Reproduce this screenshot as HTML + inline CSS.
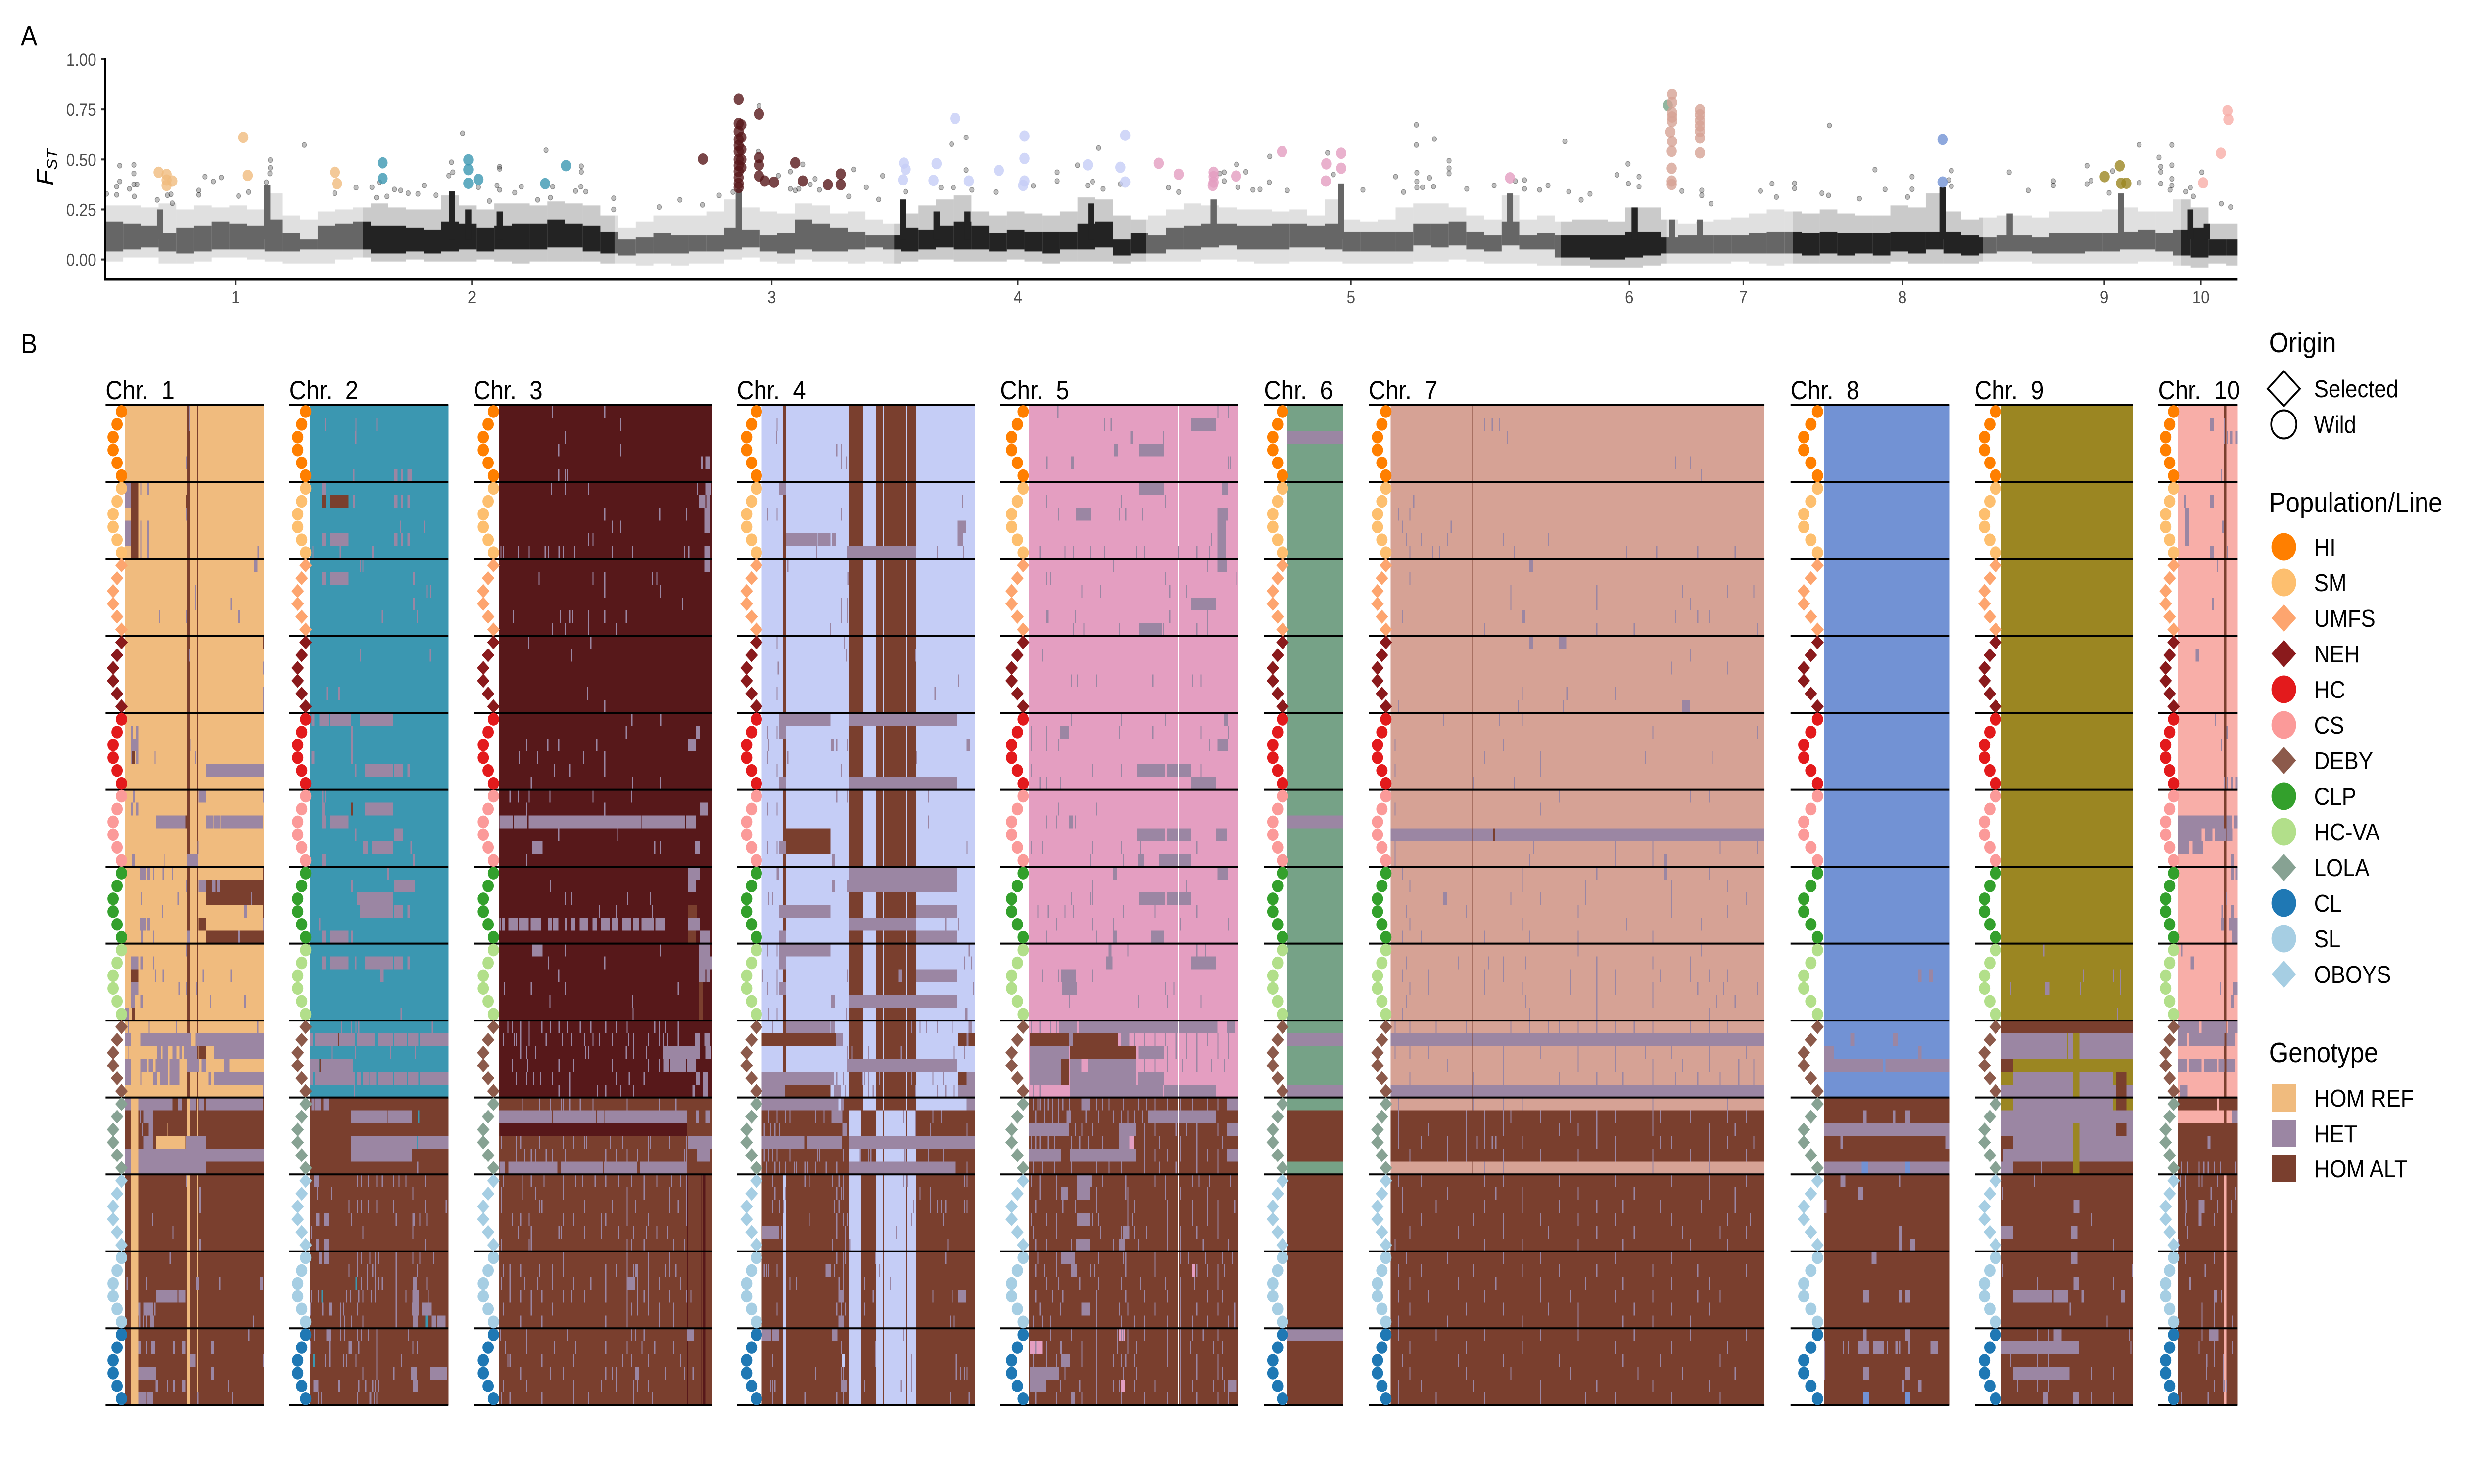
<!DOCTYPE html>
<html lang="en">
<head>
<meta charset="utf-8">
<title>FST Manhattan plot and genotype heatmaps by chromosome</title>
<style>
html,body{margin:0;padding:0;background:#fff;width:100%;height:100%;overflow:hidden;}
svg{display:block;width:100vw;height:100vh;font-family:"Liberation Sans",sans-serif;}
.pre{white-space:pre;}
</style>
</head>
<body>
<svg id="figure" xmlns="http://www.w3.org/2000/svg" viewBox="0 0 5600 3000" preserveAspectRatio="none">
<rect x="0" y="0" width="5600" height="3000" fill="#fff"/>
<text x="47" y="91" font-size="56">A</text>
<text x="47" y="714" font-size="56">B</text>
<g id="manhattan"></g>
<text transform="translate(120,375) rotate(-90)" font-style="italic" font-size="52">F<tspan dy="9" font-size="33">ST</tspan></text>
<g id="heatmaps"></g>

<g>
<g>
<text x="5136" y="712" font-size="57">Origin</text>
<polygon points="5133,786 5169.5,750 5206,786 5169.5,821" fill="none" stroke="#000" stroke-width="4"/>
<text x="5238" y="803" font-size="49">Selected</text>
<circle cx="5169.5" cy="858" r="28.5" fill="none" stroke="#000" stroke-width="4"/>
<text x="5238" y="875" font-size="49">Wild</text>
</g>
<g>
<text x="5136" y="1035" font-size="57">Population/Line</text>
<circle cx="5169.5" cy="1105.5" r="28" fill="#ff7f00"/>
<text x="5238" y="1123" font-size="49">HI</text>
<circle cx="5169.5" cy="1177.5" r="28" fill="#fdbf6f"/>
<text x="5238" y="1195" font-size="49">SM</text>
<polygon points="5141.5,1249.5 5169.5,1221.5 5197.5,1249.5 5169.5,1277.5" fill="#fda56f"/>
<text x="5238" y="1267" font-size="49">UMFS</text>
<polygon points="5141.5,1321.5 5169.5,1293.5 5197.5,1321.5 5169.5,1349.5" fill="#8a1a1c"/>
<text x="5238" y="1339" font-size="49">NEH</text>
<circle cx="5169.5" cy="1393.5" r="28" fill="#e31a1c"/>
<text x="5238" y="1411" font-size="49">HC</text>
<circle cx="5169.5" cy="1465.5" r="28" fill="#fb9a99"/>
<text x="5238" y="1483" font-size="49">CS</text>
<polygon points="5141.5,1537.5 5169.5,1509.5 5197.5,1537.5 5169.5,1565.5" fill="#8c5a4b"/>
<text x="5238" y="1555" font-size="49">DEBY</text>
<circle cx="5169.5" cy="1609.5" r="28" fill="#33a02c"/>
<text x="5238" y="1627" font-size="49">CLP</text>
<circle cx="5169.5" cy="1681.5" r="28" fill="#b2df8a"/>
<text x="5238" y="1699" font-size="49">HC-VA</text>
<polygon points="5141.5,1753.5 5169.5,1725.5 5197.5,1753.5 5169.5,1781.5" fill="#87a293"/>
<text x="5238" y="1771" font-size="49">LOLA</text>
<circle cx="5169.5" cy="1825.5" r="28" fill="#1f78b4"/>
<text x="5238" y="1843" font-size="49">CL</text>
<circle cx="5169.5" cy="1897.5" r="28" fill="#a6cee3"/>
<text x="5238" y="1915" font-size="49">SL</text>
<polygon points="5141.5,1969.5 5169.5,1941.5 5197.5,1969.5 5169.5,1997.5" fill="#a6cee3"/>
<text x="5238" y="1987" font-size="49">OBOYS</text>
</g>
<g>
<text x="5136" y="2147" font-size="57">Genotype</text>
<rect x="5143" y="2192" width="54" height="55" fill="#f0bb7e"/>
<text x="5238" y="2237" font-size="49">HOM REF</text>
<rect x="5143" y="2264" width="54" height="55" fill="#9b86a3"/>
<text x="5238" y="2309" font-size="49">HET</text>
<rect x="5143" y="2335" width="54" height="55" fill="#7a3f2e"/>
<text x="5238" y="2380" font-size="49">HOM ALT</text>
</g>
</g>
</svg>

<script>
/* ===== Panel A data: genome position in window units, value = FST ===== */
const yTickValues = [0, 0.25, 0.5, 0.75, 1];
const yTickLabels = ["0.00", "0.25", "0.50", "0.75", "1.00"];
const xTickLabels = ["1", "2", "3", "4", "5", "6", "7", "8", "9", "10"];
const xTickPositions = [29.4, 82.9, 150.8, 206.5, 281.9, 344.9, 370.7, 406.7, 452.4, 474.3];
const chromosomeEnds = [58.2, 115.2, 178.5, 235.5, 329.4, 353.4, 381.9, 424.9, 469.7, 482.6];

/* dense SNP cloud summarised per window (4 units wide) */
const coreTop = [.19,.18,.17,.13,.16,.17,.19,.18,.17,.2,.13,.1,.17,.18,.19,
 .17,.17,.16,.15,.19,.18,.16,.17,.18,.18,.2,.18,.17,.14,
 .1,.11,.13,.12,.12,.12,.16,.15,.12,.13,.2,.18,.16,.14,.12,.12,
 .16,.15,.17,.19,.17,.13,.15,.14,.14,.14,.18,.19,.1,.13,
 .12,.16,.17,.18,.18,.17,.17,.18,.18,.17,.18,.14,.14,.14,.14,.18,.18,.19,.14,.12,.19,.12,.13,
 .12,.12,.12,.12,.14,.14,.11,
 .12,.12,.12,.12,.13,.14,
 .14,.13,.14,.13,.13,.13,.14,.14,.14,.14,.12,
 .11,.12,.12,.11,.13,.13,.13,.13,.14,.15,.13,
 .15,.16,.1,.1];
const coreBottom = [.04,.05,.06,.04,.03,.04,.05,.05,.05,.04,.04,.05,.05,.05,.05,
 .03,.03,.04,.03,.04,.05,.04,.05,.05,.05,.06,.06,.04,.03,
 .02,.03,.03,.03,.04,.04,.05,.06,.04,.03,.05,.04,.04,.05,.06,.05,
 .04,.05,.06,.05,.05,.04,.05,.04,.03,.05,.05,.06,.02,.03,
 .03,.05,.05,.06,.07,.05,.05,.05,.06,.06,.05,.04,.04,.04,.04,.07,.06,.07,.05,.04,.07,.05,.05,
 .01,.01,0,0,.01,.02,.03,
 .03,.03,.03,.03,.03,.03,
 .03,.02,.03,.02,.03,.02,.04,.03,.05,.03,.02,
 .03,.04,.04,.03,.03,.03,.04,.04,.05,.05,.04,
 .02,.01,.02,.02];
const haloTop = [.27,.27,.26,.28,.25,.27,.26,.27,.25,.33,.22,.2,.24,.25,.26,
 .28,.26,.25,.25,.32,.27,.25,.28,.28,.27,.29,.28,.27,.22,
 .16,.19,.22,.22,.22,.24,.3,.26,.24,.23,.28,.27,.23,.24,.2,.18,
 .23,.27,.3,.32,.24,.22,.24,.23,.22,.24,.31,.3,.22,.2,
 .22,.25,.28,.27,.26,.25,.25,.24,.25,.22,.3,.2,.19,.2,.26,.28,.28,.26,.22,.2,.32,.2,.22,
 .19,.2,.2,.19,.26,.26,.2,
 .18,.19,.2,.21,.23,.25,
 .24,.23,.25,.23,.22,.22,.27,.26,.33,.24,.2,
 .21,.22,.22,.21,.24,.24,.24,.25,.26,.24,.24,
 .3,.26,.18,.18];
const haloBottom = [-.01,.01,.01,-.02,-.02,-.01,.01,.01,0,-.01,-.02,-.02,-.02,0,.01,
 -.01,-.01,0,-.01,-.01,-.01,0,-.01,-.02,-.01,-.01,-.01,-.01,-.02,
 -.02,-.03,-.02,-.03,-.02,-.02,0,.01,-.01,-.02,0,-.01,-.01,-.02,-.01,-.02,
 -.01,0,0,-.01,-.01,-.01,0,-.01,-.02,-.01,-.01,-.01,-.02,-.01,
 -.01,-.01,-.01,0,0,-.01,-.02,-.02,-.01,-.01,-.01,-.02,-.02,-.02,-.02,-.01,-.01,0,-.01,-.02,-.02,-.02,-.03,
 -.03,-.03,-.04,-.04,-.04,-.03,-.02,
 -.02,-.02,-.02,-.01,-.02,-.03,
 -.02,-.02,-.02,-.02,-.02,-.02,-.01,-.02,-.02,-.02,-.02,
 -.01,-.01,-.01,-.02,-.02,-.02,-.02,-.02,-.02,-.01,-.01,
 -.03,-.04,-.02,-.03];

/* narrow FST peaks rising out of the cloud */
const peakPositions = [12.3,36.6,78.4,82.1,89.2,143.3,180.5,188.1,195.1,223.1,250.8,279.7,317.9,346.1,354.6,360.9,415.8,431,456.2,471.9,475.6];
const peakValues = [.25,.37,.34,.25,.24,.35,.3,.24,.24,.28,.3,.38,.33,.26,.2,.2,.36,.23,.33,.25,.18];

/* individually visible outlier SNPs */
const outlierPositions = [3.2,6.4,6.4,3.2,2.5,6.4,7.1,5.4,.2,2.5,6.5,11.7,14,14.8,15.1,22.5,24.4,26.2,21.1,21.1,32.4,30.1,37.3,37.3,37.2,36.4,45,51.9,56.7,60.3,62,65.4,66.8,68.5,70.7,72.1,74.8,61.3,63.7,78.3,78.6,77.7,80.8,84.4,89.2,89.2,88.6,89.2,94.1,99.7,101.2,107.7,107.7,107.6,106.4,108.7,115,115,97.8,100.7,92.6,86.9,130,125.3,135.1,138.9,142,147.9,147.7,155,152.3,155,156.1,157.8,160.6,159.5,156.9,161.6,169.3,172.2,175.9,168.2,175,181.1,191.5,194.8,194.8,189.1,191.9,196.1,201.5,210,215.4,215.4,220,224.8,222.3,223.4,225.8,229.7,240.6,242.9,252.2,253.2,253.2,256,258.1,256.3,263.5,263.4,259.7,261.3,267.5,276.6,277.9,292,284.6,293.8,296.7,296.7,300.8,296.8,296.8,296.8,299.7,300.6,298.1,304.1,304.1,304.1,308.1,314.3,321.2,321.2,319.1,326.5,324.6,330.3,331.2,336,342.1,344.6,344.7,334,347.1,347.1,356.8,361.3,361.3,363.4,377.2,382.3,382.3,374.6,378.2,390.2,388.5,390,400.5,402.8,397,408.9,408.9,407.9,417.8,417.2,417.8,430.9,435.2,440.9,440.9,448.5,449.4,448.5,454.3,460.3,460.3,453.5,467.7,464.8,465.2,465.2,467.7,467.7,467.7,465.2,467.3,474.5,471.9,472.6,470.8,478.9,481];
const outlierFst = [.469,.473,.43,.39,.364,.375,.375,.353,.328,.323,.315,.298,.321,.326,.281,.414,.39,.41,.345,.323,.337,.317,.497,.458,.43,.386,.572,.331,.359,.361,.386,.35,.345,.331,.328,.37,.321,.309,.315,.486,.436,.419,.631,.361,.464,.453,.37,.348,.364,.546,.364,.466,.438,.364,.342,.339,.306,.25,.298,.309,.334,.292,.298,.262,.273,.32,.337,.767,.539,.439,.419,.353,.345,.475,.403,.375,.353,.348,.45,.361,.418,.315,.3,.339,.576,.61,.447,.359,.359,.348,.337,.368,.436,.392,.471,.557,.37,.389,.353,.377,.359,.337,.43,.436,.392,.475,.438,.361,.515,.386,.348,.35,.345,.533,.425,.414,.348,.337,.673,.572,.602,.434,.39,.359,.408,.364,.361,.494,.456,.43,.353,.37,.397,.353,.392,.37,.348,.59,.339,.328,.423,.478,.379,.298,.414,.364,.342,.345,.32,.279,.379,.381,.355,.342,.312,.67,.331,.32,.449,.35,.304,.414,.351,.312,.444,.397,.366,.436,.345,.392,.37,.469,.394,.377,.442,.573,.383,.333,.572,.51,.464,.438,.471,.403,.37,.379,.348,.436,.359,.315,.339,.279,.262];

/* candidate SNPs coloured by chromosome */
const highlightPositions = [12,13.8,13.8,13.8,15.1,31.2,32.2,51.9,52.4,
 62.7,62.7,82.1,82.1,82.1,84.4,99.5,104.2,
 135.2,143.3,147.9,143.3,143.3,143.3,143.3,143.3,143.3,143.3,143.3,143.3,143.3,143.3,143.9,143.9,143.9,143.9,143.9,147.9,147.9,147.9,149.2,151.3,156.1,157.8,163.5,166.4,166.4,
 192.3,208,230.8,208,180.7,181.1,180.5,188.1,187.4,195.4,202.2,208,207.7,222.3,229.7,230.8,
 238.4,242.9,250.8,250.8,250.8,250.6,255.9,266.3,276.3,276.2,279.7,279.7,317.9,
 353.6,
 354.6,354.6,354.6,354.6,354.6,354.2,354.6,354.5,354.5,354.5,354.5,360.9,360.9,360.9,360.9,360.9,360.9,360.9,
 415.8,415.8,
 452.5,455.9,456.2,457.4,
 474.8,478.8,480.3,480.5];
const highlightFst = [.436,.425,.397,.37,.392,.61,.42,.436,.379,
 .483,.405,.498,.449,.381,.4,.379,.469,
 .502,.8,.727,.68,.64,.6,.57,.54,.5,.47,.44,.41,.38,.36,.673,.61,.55,.5,.46,.509,.472,.417,.392,.386,.483,.392,.374,.427,.374,
 .705,.617,.621,.505,.482,.451,.398,.479,.395,.392,.445,.392,.37,.473,.461,.387,
 .481,.426,.436,.414,.386,.37,.417,.539,.478,.392,.531,.456,.408,
 .77,
 .826,.784,.734,.712,.69,.638,.59,.541,.456,.392,.375,.748,.723,.695,.668,.64,.607,.533,
 .6,.387,
 .414,.468,.381,.381,
 .383,.531,.743,.7];
const highlightChromosome = [0,0,0,0,0,0,0,0,0,
 1,1,1,1,1,1,1,1,
 2,2,2,2,2,2,2,2,2,2,2,2,2,2,2,2,2,2,2,2,2,2,2,2,2,2,2,2,2,
 3,3,3,3,3,3,3,3,3,3,3,3,3,3,3,3,
 4,4,4,4,4,4,4,4,4,4,4,4,4,
 5,
 6,6,6,6,6,6,6,6,6,6,6,6,6,6,6,6,6,6,
 7,7,
 8,8,8,8,
 9,9,9,9];

/* ===== Panel B data ===== */
const chromosomeTitles = ["Chr.  1","Chr.  2","Chr.  3","Chr.  4","Chr.  5","Chr.  6","Chr.  7","Chr.  8","Chr.  9","Chr.  10"];
const populationOrder = ["hi","sm","umfs","neh","hc","cs","clp","hc-va","deby","lola","oboys","sl","cl"];
const populationSelected = [0,0,1,1,0,0,0,0,1,1,1,0,0];
const populationColors = ["#ff7f00","#fdbf6f","#fda56f","#8a1a1c","#e31a1c","#fb9a99","#33a02c","#b2df8a","#8c5a4b","#87a293","#a6cee3","#a6cee3","#1f78b4"];
const homRefColors = ["#f0bb7e","#3b97b1","#57181a","#c5cdf6","#e49ec1","#76a287","#d6a295","#7292d4","#9b8622","#f8aea8"];

/* each run: [firstRow, lastRow, startPercent, endPercent, genotype] ; 0 ref, 1 het, 2 alt, 3 no call */
const chr1Runs = [[0,53,44.5,46.5,2],[0,53,51.8,52.3,2],[54,77,0,100,2],[54,77,4,9.5,0],[54,77,44.5,47,0],[54,77,51.8,52.3,0],
[0,1,45.8,46.5,1],[4,4,43.5,44.5,1],[6,7,0,4,1],[6,11,4,9.5,2],[6,6,11,11.7,1],[6,6,15.9,17.3,1],[7,7,43.5,44.5,2],[8,8,43.5,44.5,1],[9,10,0,4,1],[9,11,11,11.7,1],[9,11,15.9,17.3,1],
[12,12,92.7,95.3,1],[14,15,50.4,51,1],[16,16,24.3,25.4,1],[16,16,43.5,44.5,1],[16,16,81.6,82.8,1],[18,18,99,100,2],[19,19,45.6,46.3,1],[20,20,99,100,1],[22,23,99,100,1],
[25,27,4,5.5,1],[25,27,7.5,9.5,1],[26,26,4,9.5,1],[27,27,4.7,7.3,2],[27,27,21.2,21.9,1],[26,26,46.5,47.3,1],[27,27,50.4,51,1],[28,28,58,100,1],
[30,30,5.7,7.3,1],[30,30,53,58,1],[30,30,99,100,1],[31,31,4,5.5,1],[31,31,7.5,9.5,1],[32,32,22.4,43.4,1],[32,32,43.4,45.6,2],[32,32,58,63,1],[32,32,63.5,68,1],[32,32,68.6,99,1],[34,34,52.2,53,1],[35,35,4.7,7.3,1],[35,35,28.3,28.8,1],[35,35,44.5,52.4,1],
[36,36,10.8,12.5,1],[36,36,13,15,1],[36,36,16,18,1],[36,36,20,21,1],[36,36,33.5,34.5,1],[36,36,99,100,2],[37,37,43.5,44.5,1],[37,37,53,58,1],[37,38,58,100,2],[37,37,62.5,65,1],[37,37,66,68,1],[38,38,11.5,12.2,1],[38,38,90.4,91.3,1],[39,39,85.4,88,1],[39,39,99,100,2],
[40,40,10.8,12.5,1],[40,40,13,15,1],[40,40,16,18,1],[40,40,53,58,2],[40,40,99,100,1],[41,41,58,100,2],[41,41,81.6,82.8,1],[41,41,44.5,47,1],[41,41,11.5,13,1],[41,41,20,21,1],
[42,42,43.5,44.5,1],[43,43,4,9.5,1],[43,43,11,13,1],[43,43,20,21,1],[44,44,4,9.5,2],[45,45,4,9.5,1],[45,45,38.3,39.5,1],[45,45,43.5,44.5,1],[45,45,51,52,1],[46,46,4,7.3,1],[46,46,11,13,1],[46,46,85.4,87,1],[47,47,0,2.7,1],[47,47,4.7,7.3,2],
[48,48,36.5,37.4,1],[48,48,95,96,1],[48,48,2,3,1],[49,49,0,4,1],[49,49,11,47.5,1],[49,49,50.7,100,1],
[50,50,2,2.5,1],[50,50,23,26,1],[50,50,27,31,1],[50,50,34,37,1],[50,50,39,41,1],[50,50,42.5,52,1],[50,50,53,58,2],[50,50,64,100,1],
[51,51,0,4,1],[51,51,11,16,1],[51,51,17,20,1],[51,51,22,31,1],[51,51,32,39,1],[51,51,44.5,53.5,1],[51,51,55,58,1],[51,51,71,75,1],
[52,52,0,4,1],[52,52,11,11.7,1],[52,52,20,23,1],[52,52,25,31,1],[52,52,32,39,1],[52,52,60,62,1],[52,52,64,100,1],[53,53,99,100,1],
[54,54,0,4,1],[54,54,9.5,34,1],[54,54,38,41,1],[54,54,47,51,1],[54,54,53,57,1],[54,54,58,99,1],
[55,55,13.5,20,1],[55,55,10.5,11.5,1],[56,56,12,13,1],[56,56,17,20,1],[56,56,30,30.5,0],[57,57,13.5,20,1],[57,57,22.4,43.4,0],[57,57,43.5,58,1],[58,59,0,4,1],[58,58,9.5,100,1],[59,59,9.5,58,1],
[61,62,53.5,54.5,1],[65,65,53.5,54.5,1],[68,68,1,2,1],[68,68,51,53.5,1],[68,68,97,99,1],[69,69,22.4,37.7,1],[69,69,38.3,43.4,1],[70,70,9.5,11,1],[70,70,13.5,20,1],[70,70,21,22,1],[71,71,10,11,1],[71,71,13,14,1],[71,71,15,16,1],[71,71,18,21,1],
[72,72,88.5,89.5,1],[73,73,9.5,11.5,1],[73,73,15,16,1],[73,73,19,21.5,1],[73,73,34.5,36,1],[73,73,41,43.4,1],[73,73,62,64,1],[74,74,47,50.7,1],[74,74,99,100,1],[75,75,9.5,22.4,1],[75,75,62,64,1],[76,76,22,24,1],[76,76,30,31,1],[76,76,34.5,36,1],[76,76,41,43.4,1],[77,77,9.5,15,1],[77,77,15.5,20,1],[77,77,52,53,1]];
const chr1Thin = [[48,[17,36.5,95]],[44,[21.7,27,55.8,75.7]],[11,[95.3]],[15,[75.7]],[36,[27]],[38,[37.7]],[39,[26.6]],[46,[61]],[60,[43.5]],[63,[19.5]],[64,[34]],[66,[32]],[68,[15.3,67.7]],[71,[92]],[76,[74]],[77,[76.5]]];

const chr2Runs = [[54,77,0,100,2],[2,2,32.7,33.8,1],[5,5,61,63.4,1],[5,5,65.6,67.5,1],[5,5,70.4,73.9,1],[6,6,9,11.7,1],[7,7,9,11.5,2],[7,7,14.6,28,2],[7,7,31.4,32.7,1],[7,7,61,63.4,1],[7,7,65.6,67.5,1],[7,7,70.4,72,1],
[10,10,9,11.5,1],[10,10,14.6,28,1],[10,10,61,63.4,1],[10,10,65.6,67.5,1],[10,10,70.4,72,1],[11,11,45,46.4,1],[13,13,9,11.5,1],[13,13,14.6,28,1],[13,13,74.6,75.9,1],[15,15,74.6,75.9,1],[22,22,20.5,22,1],
[24,24,1.3,3.5,1],[24,24,7,14,1],[24,24,14.6,29.6,1],[24,24,36,60,1],[25,26,29.6,31,1],[27,27,1.3,3.5,1],[27,27,29.6,31.4,1],[28,28,40,60,1],[28,28,32.7,33.8,1],[28,28,61,67.5,1],[28,28,70.4,72,1],
[31,31,29.6,31.4,2],[31,31,40,60,1],[31,31,9,11,1],[32,32,9,11.5,1],[32,32,14.6,28,1],[33,33,32.7,33.8,1],[33,33,61,67.5,1],[34,34,38.2,41.8,1],[34,34,45,60,1],[35,35,9,11.5,1],[35,35,74.6,75.9,1],[36,36,56,57.3,1],[37,37,29.6,31.4,1],[37,37,61,75.9,1],[38,38,34,60,1],[39,39,36,60,1],[39,39,61,67.5,1],[39,39,70.4,72,1],[40,40,6.4,7.7,1],[41,41,9,11.5,1],[41,41,14.6,28,1],[41,41,29.6,31.4,1],
[43,43,9,11.5,1],[43,43,14.6,28,1],[43,43,32.7,33.8,1],[43,43,40,60,1],[43,43,61,67.5,1],[43,43,70.4,72,1],[44,44,50.6,53.3,1],
[49,49,0,2.2,1],[49,49,4,20.5,1],[49,49,21.4,32.7,1],[49,49,34,47,1],[49,49,49,60,1],[49,49,61,70,1],[49,49,70.7,78.3,1],[49,49,79.2,100,1],[49,49,20.5,21.4,2],
[51,51,0,6.8,1],[51,51,8.2,31.4,1],[51,51,7,8,2],[52,52,0,2.2,1],[52,52,4,32.7,1],[52,52,34,37,1],[52,52,38.2,42.4,1],[52,52,43,48,1],[52,52,49.3,60,1],[52,52,61,70,1],[52,52,70.7,78.3,1],[52,52,79.2,100,1],
[54,54,1.3,3.5,1],[54,54,4,8,1],[54,54,9.8,14,1],[55,55,29.6,55.8,1],[55,55,56.3,73.5,1],[55,55,78,79,0],[57,57,29.6,77,1],[57,57,78,100,1],[57,57,77,78,0],[58,58,29.6,73.5,1],[59,59,77,78.3,1],
[60,60,3,6.4,1],[63,63,4.5,7,1],[63,63,10,14,1],[63,63,74,76,1],[65,65,4.5,6.5,1],[65,65,10,14,1],[66,66,6.4,9,1],[66,66,10,14,1],[68,68,33,34,0],[68,68,74.5,77,1],[69,69,74,78.5,1],[69,69,8.5,9.5,0],[70,70,14,16,1],[70,70,73.5,78.5,1],[70,70,81,88,1],[71,71,83.3,85.5,0],[71,71,74.5,78,1],[71,71,88,91,1],[71,71,92,98,1],
[72,72,12.4,15,1],[73,73,28.5,30.5,1],[74,74,2.2,3.8,0],[75,75,73,77,1],[75,75,87,99,1],[76,76,2.8,6.2,1],[76,76,74.5,78,1],[76,76,20.5,22,1],[77,77,43,44.5,1]];
const chr2Thin = [[1,[11,33,48]],[5,[31.5]],[9,[65,82]],[11,[2,21.7]],[12,[36,38]],[14,[84,87]],[16,[52,77]],[19,[36.2,86.6]],[22,[12]],[30,[9,11]],[34,[72.7]],[47,[65.5]],[48,[22.5,30,33,35,51,88]],[50,[15.5,32.5,58,76]],[53,[32]],[60,[34,37,42,48,52,60,64,69,83]],[61,[5,15,74]],[62,[28,34,37,42,48,60,83,98]],[63,[30,62,79,84]],[64,[1,38,74]],[65,[83]],[66,[34,37,43,47,49,51,62,74,79,89]],[67,[28,34,41,45,47,62,77]],[68,[37,41,47,49,52,62,84]],[69,[1,6,26,29,35,38,44,47,62,69,78,85]],[70,[0,9,22,24,34,62]],[71,[22,25,30,38,62]],[72,[3,12,22,25,34,37,42,48,51,71]],[73,[0,14,28,35,48,74,77]],[74,[11,14,24,26,33,48,51,66]],[75,[38,48,60,60.5]],[76,[35,40,45,47,49,51]],[77,[6,8,34,48,46]]];

const chr3Runs = [[54,77,0,100,2],[55,55,0,25,1],[55,55,25.5,45.5,1],[55,55,46,49.6,1],[55,55,49.9,88.4,1],[56,56,0.3,88.4,0],[59,59,0.3,3,1],[59,59,4.5,27.5,1],[59,59,29,49,1],[59,59,49.5,65,1],[59,59,66.5,88.4,1],[57,57,89,100,1],[58,58,93,99,1],[55,55,92.7,94,1],[55,55,97,99,1],
[4,4,95,96,1],[4,4,97,99,1],[6,6,97,99.5,1],[7,7,94,97,1],[7,7,97.5,99,1],[8,9,96.5,99,1],[11,11,96.5,99,1],[12,12,96.5,99,1],
[32,32,0.3,6.5,1],[32,32,7,13.5,1],[32,32,14,67,1],[32,32,67.3,87.5,1],[32,32,87.8,92.7,1],[26,26,89,92.7,1],[25,25,92.5,94.5,1],[31,31,94.5,98,1],[34,34,92,94.5,1],[34,34,15.7,20.5,1],
[36,36,89,94.5,1],[37,37,89,92.7,1],[39,39,89,93,2],[40,40,89,94.5,1],[41,41,89,92.7,2],[41,41,94.5,99,1],
[40,40,0.3,1,1],[40,40,1.5,3,1],[40,40,4.5,9,1],[40,40,9.5,14,1],[40,40,15,20,1],[40,40,23,25,1],[40,40,25.5,28,1],[40,40,31,32,1],[40,40,34,36,1],[40,40,38,42,1],[40,40,44,46,1],[40,40,48,52,1],[40,40,53,56,1],[40,40,58,62,1],[40,40,63,66,1],[40,40,67,73,1],[40,40,73.5,78,1],
[42,42,15.7,20.5,1],[42,42,94,99,1],[43,43,94,100,1],[44,44,94,97,1],[44,44,97.5,99,1],[45,47,94,96,2],
[49,49,92,94.3,1],[49,49,96.5,99,1],[50,50,77,94.3,1],[50,50,97,99.5,1],[51,51,77.3,80,1],[51,51,80.5,88,1],[51,51,88.5,92.7,1],[51,51,92.7,100,0],[52,52,92.5,94.3,1],[52,52,96,98,1],[53,53,91,92,1],[53,53,96,98,1],
[60,77,88.4,88.7,0],[60,77,94.8,95.2,0],[60,77,96,97,0],[67,67,64,65.5,1],[68,68,60,64,1],[72,72,88.5,91.5,1],[75,75,64,66,1]];
const chr3Thin = [[0,[24.8,49.5]],[1,[57]],[2,[30.9]],[3,[27.9,57]],[5,[27.9,31,32]],[6,[24.4,30.9,41.9,93]],[8,[49.5,75.3,88]],[9,[53,57]],[10,[41.9,44]],[11,[.8,2,9,14,21.5,23,28,30,35.5,53,62.5,87,89]],[13,[18.7,44,49.5,71.9,74]],[14,[49.5,75.6]],[15,[86]],[16,[6.6,28.6,33,34.5,41.9,49.5,59.6]],[17,[25,31,42,55]],[18,[13.7,43]],[19,[33.9]],[22,[41.5]],[23,[49.5]],[24,[62.3,75.8]],[25,[59.6,94]],[26,[13,22.8,27.9,45.8]],[27,[9.5,17.9,39.7,49.5]],[28,[26,33,49.5]],[29,[15,62.7,75.6]],[30,[5,9,14,23.8,44,62]],[31,[13,49.5]],[33,[27.9,55.7]],[34,[73,75.6]],[35,[13]],[37,[23.9]],[38,[31,34,60.3,71]],[39,[47,55,72]],[42,[31,75.6]],[43,[23,49.5]],[44,[27.9]],[45,[2.5,15,31,84]],[46,[23.8,62.7]],[47,[62.8]],
[48,[4,6,10,14,20,24,28,32,38,43,50,55,60,73,75,78,84]],[49,[2,7,8,10,14,22,29.6,34,40,44,47,53,60.7,63,70,75,77,79,84]],[50,[10,13,17,40.6,42,59.6,63,69]],[51,[6,13.4,28,35,53,70,75]],[52,[8,13,16,19.4,25,33,55,61,68]],[53,[28,33,46,50,57,63]],[54,[11,19,24,29,30,33,38,44,60,75,83]],[57,[1,8,10,19,30,35,40,41,52,58,70,71,80,88]],[58,[8,12,15,17,22,25,31,50,55,60,65,70,87,88]],
[60,[2,11,15,21,30,36,39,45,50,56,62,68,74,81,85,88]],[61,[1,11,17,30,60,68,80,88]],[62,[1,19,20,40,53,60,64,80,84,88]],[63,[6,10,14,30,35,48,50,60,70,88]],[64,[9,15,28,29,40,48,56,63,69,74,79]],[65,[1,14,15,60,62,68,82,87]],[66,[30,60,70,80]],[67,[2,5,10,19,25,30,50,55,60,63,70,78,80,83]],[68,[1,5,12,18,25,35,43,50,61,65,70,75,85]],[69,[5,10,15,20,30,34,40,50,60,65,68,70,80,88,90]],[70,[2,15,25,60,62,65,70,75,82]],[71,[10,20,50,60,75,82]],[72,[.5,13,32,62,64,68]],[73,[3,13,26,36,50,60,67,73,82]],[74,[4,5,20,35,58,62,70,85]],[75,[10,24,30,50,53,55,78,87,91]],[76,[2,13,35,48,55,63,65,70]],[77,[1,5,20,35,42,63,72]]];

const chr4Runs = [[0,59,10.1,11.3,2],[0,54,40.9,46.6,2],[0,54,46.8,47.5,2],[0,54,53.6,56.9,2],[0,54,57.4,67.7,2],[0,54,68.2,72.4,2],
[55,77,0,100,2],[55,77,40.9,46.6,0],[55,77,53.6,56.9,0],[55,77,57.4,67.7,0],[55,77,68.2,72.4,0],[60,77,10.1,11.3,0],
[6,6,8.1,11.3,1],[10,10,11.4,26,1],[10,10,26.2,32.3,1],[10,10,33,34.7,1],[11,11,40,72.4,1],[9,9,91.9,95.7,1],[10,10,91.9,94.3,1],[11,11,94.3,95,1],
[24,24,8.1,32.3,1],[24,24,40.9,91.8,1],[25,25,8.1,11.3,1],[29,29,40.9,91.8,1],[29,29,8.1,11.3,1],[26,26,32.5,34,1],[26,26,96,97.5,1],[33,33,11.3,32.3,2],[34,34,11.3,32.3,2],[34,34,8.1,11.3,1],[35,35,33,34.5,1],
[36,36,40.9,91.8,1],[36,36,7,8,1],[37,37,39.8,91.8,1],[37,37,33,34.5,1],[39,39,8.1,32.3,1],[39,39,72.4,91.8,1],[40,40,40.9,72.4,1],[41,41,8.1,11.3,1],[41,41,72.4,91.8,1],
[42,42,8.1,32.3,1],[43,43,8.1,11.3,1],[44,44,72.4,91.8,1],[44,44,64,65.5,1],[45,45,8.1,11.3,1],[46,46,40.7,91.8,1],[46,46,32.5,34.5,1],[47,47,95.5,96.5,1],
[48,48,11.3,32.3,1],[48,48,32.5,34.5,1],[48,48,97,98.5,1],[49,49,0,34.7,2],[49,49,34.7,38,1],[49,49,92,100,2],[49,49,96,97,1],[51,51,39.8,91.8,1],[52,52,0,34,1],[52,52,92,96,2],[52,52,96,100,1],[53,53,0,11,1],[53,53,11.3,32.3,2],[53,53,34,37,1],[53,53,92,100,1],
[54,54,0,36,1],[54,54,37,38.5,1],[54,54,38.5,40.9,2],[54,54,96,100,1],[55,55,32.7,37.9,1],[56,56,37.9,40,1],[57,57,0,20,1],[57,57,21,37.7,1],[57,57,40.9,100,1],[59,59,40.7,91,1],
[64,64,.3,8,1],[67,67,30,32,1],[69,69,36,38,1],[69,69,92,95.7,1],[71,71,36,38,1],[72,72,0,4.5,1],[72,72,5,8,1],[72,72,33,35,1],[74,74,37.5,39,0],[76,76,37,40,1]];
const chr4Thin = [[1,[7]],[2,[6.7]],[3,[35,37]],[4,[37,39.5]],[7,[94]],[8,[2.7,7,37]],[11,[25.5,82]],[12,[12]],[13,[40.2]],[15,[37,39.8]],[16,[37,40]],[17,[32]],[18,[7,38.5]],[19,[39.5,72]],[20,[7.5]],[21,[92]],[22,[7,81]],[25,[2.7,7]],[26,[3,35,39.8]],[27,[2.7,12,72.5]],[28,[7,37]],[30,[35,40,78]],[31,[2.7,7]],[32,[78]],[34,[2.7,7,96]],[35,[33]],[38,[3,5]],[40,[86,92]],[42,[2.7,7,97]],[43,[95,98]],[44,[0.3,7,40]],[45,[2.7,7,99]],[47,[3,7,39.5,96]],
[48,[5,21,70,74,77,82,89]],[50,[40,42,50,65,90,95]],[52,[35,38,47,48,50,55,70,80,85]],[53,[39,50,52,72,82,86,90]],[55,[3,7,11,13,25,29,34,66,72,80,84]],[56,[1,4,6,8,38,72,79,96]],[58,[1,3,5,7,13,26,27,38,46,50,51,67,78,85]],[59,[2,6,8,11,15,16,20,21,25,30,35,96]],
[60,[5,20,22,33,36,38,66,68,95,96]],[61,[6,11,35,37,38,74,79]],[62,[5,8,10,34,36,71,79,82,84,86,95,96]],[63,[22,35,38,40,70,85]],[64,[9,35,39,63]],[65,[33,39,41,87]],[66,[35,38,39,53,86]],[67,[1,2,3,7,32,34,38,55]],[68,[13,16,36,38,48,60]],[69,[36,38,52,80,89]],[70,[7,35,37,39,48]],[71,[36,38,88,90]],[72,[33,35,66]],[73,[37,53]],[74,[5,53,70,91]],[75,[25,37,38,70,91,93,95,96]],[76,[4,5,6,37,39,48,65,70]],[77,[5,20,35,38,88,97]]];

const chr5Runs = [[54,77,0,100,2],[1,1,77.6,89.5,1],[3,3,52.5,64.4,1],[3,3,40.5,42.5,1],[4,4,8,9,1],[4,4,20,21.5,1],[6,6,52.5,64.4,1],[6,6,92,95,1],[8,8,22.4,29.4,1],[8,8,90,95,1],[9,12,90,94,1],[15,15,77.6,89.5,1],[16,16,8,9.5,1],[17,17,52.4,63.5,1],
[24,24,93,95,1],[25,25,15,19,1],[26,26,90,95,1],[28,28,51.6,65,1],[28,28,66,77.6,1],[29,29,77.6,89.5,1],[33,33,51.6,65,1],[33,33,66,77.6,1],[33,33,89.5,94.5,1],[35,35,52,55,1],[35,35,62,77.6,1],[32,32,19.5,21,1],[38,38,52.4,65,1],[38,38,66,77.6,1],[36,36,40,42,1],[36,36,90,95,1],[41,41,58.4,64.4,1],[41,41,40,42,1],[43,43,77.6,89.5,1],[44,44,15.5,22.5,1],[42,42,38,39.5,1],[45,45,16,23,1],[43,43,37,40,1],
[48,48,14.5,23,1],[48,48,24,90,1],[48,48,94.5,98.4,1],[49,49,.4,42.4,2],[49,49,44,48,1],[49,49,19,21,1],[50,50,.4,19,1],[50,50,19.5,51,2],[50,50,52.2,64.4,1],[51,51,.4,15.5,1],[51,51,15.5,19,2],[51,51,19.5,51,1],[51,51,25,28,0],[52,52,.4,15.5,1],[52,52,15.5,19,2],[52,52,19.5,51,1],[52,52,52,64.4,1],[53,53,19.5,51,1],[53,53,51,64,1],[53,53,64.4,89.5,1],
[54,54,25,29,1],[54,54,94.5,100,1],[55,55,18,20,1],[55,55,57,89.5,1],[55,55,94.5,100,2],[56,56,0,19,1],[56,56,43,51,1],[56,56,94.5,100,1],[57,57,43,48,1],[58,58,0,15.5,1],[58,58,19.5,51,1],[58,58,94.5,100,1],[57,57,48,50,0],
[60,60,23,30,1],[61,61,15.5,18.7,1],[61,61,23,29,1],[63,63,23,29,1],[64,64,45,48,1],[65,65,22.5,29,1],[65,65,43,46,1],[66,66,17,19,1],[66,66,15.5,22,1],[67,67,20,23,1],[67,67,78,79.5,0],[70,70,25,29,1],[72,72,43,46,0],[73,73,.4,6.4,0],[73,73,15,16,1],[74,74,15.5,19.5,1],[75,75,.4,14.4,1],[76,76,44,46,0],[76,76,.4,8,1],[76,76,95,99,1],[77,77,20,22,1],[0,77,71.2,71.5,3]];
const chr5Thin = [[0,[13.6,90,95]],[1,[36,39]],[2,[49,48.5,64]],[4,[8,20,95,96]],[7,[8,44,65]],[8,[14,43,46,54]],[10,[87]],[11,[5,17,21,29,36,51,55,71,80,86]],[12,[40,85,94]],[13,[8,10,65,99]],[14,[25,34,67,75]],[16,[22,67,85]],[17,[21,26,43,57,64,80,85]],[19,[6]],[21,[20,23,32,59,78,82]],[24,[20,44,65]],[25,[1,8,43,59,82,95]],[26,[1,8,14,86,90]],[28,[1,30,44,82]],[29,[5,8,15,82]],[31,[14,32]],[32,[8,13,19,22]],[34,[1,6,30,44,53,80]],[35,[29,45]],[37,[30,75]],[38,[20,29,30]],[39,[4,9,17,21,45,60,80]],[40,[13,30,40,72,95]],[41,[8,32,40]],[42,[47,80,84]],[44,[6,14,19,30]],[45,[65,69]],[46,[19,52,66,82]],
[48,[1,5,10,13]],[49,[50,55,60,65,70,75,80,85,90,95]],[50,[66,70,75,80,90,95]],[51,[55,60,66,73,80,87,93]],[53,[2,5]],
[54,[2,4,5,7,9,11,14,16,19,32,35,38,45,52,56,60,66,72,78,85,90]],[55,[3,7,11,14,27,33,40,44,47,50,54]],[56,[22,25,30,55,60,70,75,80,90]],[57,[1,3,5,9,12,20,24,28,35,55,62,72,80,92]],[58,[55,60,66,72,80,85,90]],[59,[2,6,12,20,32,38,44,55,62,70,80,90]],
[60,[1,5,13,35,46,60,65,78,81,86,96]],[61,[5,13,32,46,47,65,72,85]],[62,[3,16,22,32,47,50,66,78,85,90,98]],[63,[1,8,13,30,33,47,49,66,78,85,90]],[64,[2,13,34,44,50,56,66,72,80,90]],[65,[3,8,20,40,43,52,66,72,83,95]],[66,[4,13,33,45,46,60,72,76,84,92,97]],[67,[3,7,13,22,29,31,46,60,80,85,90,93]],[68,[8,14,24,33,44,53,65,72,79,90]],[69,[3,11,16,32,46,55,66,72,85,92]],[70,[5,15,32,43,47,60,72,80,90,98]],[71,[2,6,10,32,44,50,55,66,72,78,85,95,98]],[72,[10,20,32,42,44,45,47,55,66,72,78,83,90]],[73,[3,8,15,25,32,42,47,51,66,72,77,88,92]],[74,[2,8,13,25,32,40,44,46,50,66,72,80,90]],[75,[17,32,45,51,72,80,90,92]],[76,[3,6,15,24,32,40,43,50,60,72,78,88,93]],[77,[3,13,20,25,32,44,55,66,72,80,90,95]]];

const chr6Runs = [[2,2,0,100,1],[32,32,0,100,1],[49,49,0,100,1],[53,53,0,100,1],[55,58,0,100,2],[60,77,0,100,2],[72,72,0,100,1]];
const chr6Thin = [];

const chr7Runs = [[33,33,0,100,1],[33,33,27.4,28,2],[49,49,0,100,1],[53,53,0,100,1],[55,58,0,100,2],[60,77,0,100,2],[0,77,21.8,22,2],[16,16,35,36,1],[18,18,45,47,1],[23,23,78,80,1],[38,38,14,15,1],[36,36,73,74,1],[18,18,37,38,1],[12,12,37,38,1],[35,35,73,74,1]];
const chr7Thin = [[1,[25,27,29]],[2,[31]],[4,[76,80]],[5,[83]],[7,[6]],[8,[2,5]],[9,[3,16]],[10,[4,8,15,30,42]],[11,[5,11,13,33,63,71,82,92]],[13,[5]],[14,[32,55,78,90,97]],[15,[32,55,80]],[16,[3,76,82,85]],[17,[25,55,65,98]],[19,[80]],[20,[75,90]],[22,[35,47,60]],[23,[2,34,46]],[24,[14,29,35]],[25,[70,98]],[26,[1,30]],[27,[25,40,68,86]],[28,[1,40]],[29,[22,33]],[30,[45,80,85]],[31,[1,40]],[34,[1,38,60,70,88,98]],[35,[1,37,60,70]],[36,[3,35,55,85]],[37,[5,35,52,75,90]],[38,[32,40,52,75,95]],[39,[4,20,50,75,90]],[40,[5,35,63,83]],[41,[3,8,25,37,50,70]],[42,[50,83]],[43,[4,18,26,30,36,55,70,80]],[44,[3,10,25,30,48,55,60,72,80,85,90]],[45,[5,10,25,35,48,55,60,70,82,89,98]],[46,[4,36,55,70,87,92]],[47,[3,37,55,85]],
[48,[1,5,12,20,32,37,42,45,50,55,60,65,70,80,85,90]],[50,[1,5,10,30,40,50,60,68,75,85,95]],[51,[15,30,50,60,70,78,85,93,97]],[52,[5,22,30,45,55,62,70,76,82,88,93,97]],[54,[2,22,30,35,70,90]],[55,[2,20,25,30,32,40,48,55,60,70,72,80,90,95]],[56,[2,10,20,25,30,45,50,55,70,85,92]],[57,[2,8,15,20,23,25,27,28,35,55,60,72,75,85,90,97]],[58,[5,15,20,30,40,50,60,70,80,85,95]],[59,[25,30,70,85]],
[60,[2,8,25,30,45,60,75,85,95]],[61,[3,15,28,35,50,65,85,92]],[62,[3,12,25,35,45,55,62,72,83,92]],[63,[8,22,30,40,50,60,75,90,96]],[64,[5,18,30,42,55,65,78,88,95]],[65,[1,25,35,50,62,80,90]],[66,[4,15,30,40,60,75]],[67,[2,8,22,35,45,55,70,82,95]],[68,[5,18,28,40,52,62,75,85]],[69,[2,10,25,40,48,60,70,82,88]],[70,[5,20,30,42,50,65,75,85]],[71,[2,15,35,50,62,70,80]],[72,[2,12,25,40,50,65,80,95]],[73,[5,20,35,60,75,90]],[74,[3,18,30,45,62,72,88]],[75,[5,20,32,48,66,78,92]],[76,[2,8,22,40,55,70,85]],[77,[2,12,25,40,52,60,75,88]]];

const chr8Runs = [[54,77,0,100,2],[44,44,75,78,1],[44,44,84,87,1],[49,49,21,24,1],[49,49,55,59,1],[50,50,0,8,1],[50,50,75,78,1],[51,51,0,47,1],[51,51,49,100,1],[56,56,0,100,1],[57,57,97,100,1],[57,57,13,15,1],[55,55,31,34,1],[55,55,55,57,1],[55,55,65,69,1],[59,59,0,100,1],[59,59,30,35,0],[59,59,65,69,0],
[60,60,13,17,1],[61,61,27,31,1],[62,62,0,2,1],[64,64,60,62,1],[65,65,60,62,1],[65,65,69,73,1],[66,66,38,42,1],[69,69,31,36,1],[69,69,60,62,1],[69,69,65,69,1],[72,72,31,34,1],[72,72,65,69,1],[73,73,27,36,1],[73,73,39,48,1],[73,73,45,47,1],[73,73,57,59,1],[73,73,67,69,1],[73,73,85,91,1],[75,75,31,36,1],[75,75,65,69,1],[76,76,62,64,1],[76,76,75,78,1],[77,77,31,36,0],[77,77,65,69,0]];
const chr8Thin = [[60,[60]],[65,[60]],[50,[75]],[73,[0,15,19,45,50,60,90]],[74,[0]],[75,[0]]];

const chr9Runs = [[48,48,0,100,2],[49,50,0,100,1],[49,50,54.6,59.5,0],[49,50,50,51,0],[51,51,0,9,2],[52,52,9,85,1],[52,52,87,95,2],[52,52,54.6,59.5,0],[53,53,0,100,1],[53,53,54.6,59.5,0],[53,53,87,95,2],[54,54,9,85,1],[54,54,87,95,2],[55,55,0,100,1],[56,56,0,100,1],[56,56,54.6,59.5,0],[56,56,87,95,2],[57,57,0,9,2],[57,57,9,100,1],[57,57,54.6,59.5,0],[58,58,0,100,1],[58,58,54.6,59.5,0],[58,58,0,2,2],[59,59,9,100,2],[59,59,0,9,1],[59,59,54.6,59.5,0],[59,59,30,31,1],
[60,77,0,100,2],[62,62,55,59.5,1],[64,64,0,9,1],[64,64,53,58,1],[66,66,53,58,1],[68,68,55,59,1],[69,69,9,38.7,1],[69,69,40,51,1],[69,69,61,63,1],[69,69,91,94,1],[73,73,0,51,1],[73,73,51,59,1],[75,75,9,23,1],[75,75,23,52,1],[72,72,40,46,1],[77,77,32,36,1],[77,77,54.6,59,1],[45,45,33,37,1]];
const chr9Thin = [[42,[32]],[44,[85,90,62]],[45,[7,60,90]],[47,[88]],[60,[25]],[61,[1]],[63,[68]],[65,[85]],[67,[1,99]],[68,[27,85]],[72,[27,36,97]],[74,[7,27,36]],[75,[68,85]],[76,[12,27,36]],[73,[98]],[70,[52]],[71,[80]],[77,[68,85]]];

const chr10Runs = [[0,55,77,81,2],[56,77,0,100,2],[54,54,0,66,2],[54,54,69,100,2],[56,59,77,81,2],[60,77,77,81,0],
[1,1,53.7,60.4,1],[1,1,77,79,1],[2,2,77,79,1],[2,2,82,84,1],[2,2,87,91,1],[2,2,96,100,1],[5,5,72,74,1],[7,7,10,14,1],[7,7,53.7,60.4,1],[8,10,12,20,1],[9,9,74,77,1],[11,11,53.7,60.4,1],[11,11,82,84,1],[12,12,65,67,1],[15,15,57,60,1],[19,19,30,36,1],[24,24,62,64,1],[25,25,81,84,1],[26,26,72,74,1],[29,29,77,79,1],[29,29,82,84,1],[29,29,88,92,1],[29,29,96,100,1],
[32,32,0,77,1],[32,32,81,90,1],[32,32,94,100,1],[33,33,0,40,1],[33,33,46,58,1],[33,33,62,80,1],[33,33,81,91,1],[34,34,0,20,1],[34,34,25,42,1],[35,35,88,94,1],[36,36,88,94,1],[36,36,96,100,1],
[38,38,80,82,1],[39,39,73,75,1],[39,39,88,94,1],[40,40,72,77,1],[40,40,85,100,1],[41,41,90,100,1],[42,42,5,8,1],[43,43,22,28,1],[45,45,70,72,1],[45,45,92,100,1],[46,46,88,94,1],
[48,48,0,36,1],[48,48,40,80,1],[48,48,84,100,1],[49,49,0,15,1],[49,49,18,78,1],[49,49,81,95,1],[51,51,0,15,1],[51,51,18,40,1],[51,51,44,65,1],[51,51,68,78,1],[51,51,81,95,1],[53,53,4,16,1],
[55,55,90,100,1],[57,57,50,55,1],[62,62,35,45,1],[63,63,35,40,1],[72,72,52,68,1],[74,74,75,77,1],[68,68,18,23,1],[69,69,60,65,1],[65,65,0,2,1],[76,76,75,79,1]];
const chr10Thin = [[59,[5,15,35,43,50,60,70,95]],[60,[4,12,35,40,65]],[61,[12,55,95]],[62,[13,65,88]],[63,[12,60]],[64,[15]],[66,[12,60]],[67,[45]],[69,[72]],[70,[40,60]],[71,[40,60,90]],[72,[40,60]],[73,[35,60,90]],[74,[48,60]],[75,[47,75]],[76,[60,80]],[77,[5,50]]];

const chromosomeRuns = [chr1Runs, chr2Runs, chr3Runs, chr4Runs, chr5Runs, chr6Runs, chr7Runs, chr8Runs, chr9Runs, chr10Runs];
const chromosomeThin = [chr1Thin, chr2Thin, chr3Thin, chr4Thin, chr5Thin, chr6Thin, chr7Thin, chr8Thin, chr9Thin, chr10Thin];

/* ===== layout (not data) ===== */
const NS = "http://www.w3.org/2000/svg";
const plotLeft = 239, plotRight = 5065, axisY = 565, fstZeroY = 524.6, fstUnit = 404.6;
const binWidth = 4;
const panelLefts = [239, 655, 1072, 1668, 2264, 2861, 3098, 4053, 4470, 4885];
const panelRights = [598, 1015, 1611, 2207, 2803, 3040, 3994, 4412, 4828, 5065];
const heatLefts = [283, 701, 1129, 1724, 2329, 2913, 3148, 4129, 4529, 4929];
const markerNear = [8, 9, 12, 12, 13, 10, 11, 15, 12, 9];
const markerMid = [18, 18, 24, 23, 26, 21, 20, 30, 25, 18];
const markerFar = [27, 27, 35, 34, 39, 32, 30, 46, 37, 27];
const heatTop = 819, rowHeight = 25.92, rowsPerGroup = 6;

function posX(p) { return plotLeft + p * 10; }
function fstY(v) { return fstZeroY - v * fstUnit; }
function svgEl(tag, attrs, parent) {
  const el = document.createElementNS(NS, tag);
  for (const k in attrs) el.setAttribute(k, attrs[k]);
  parent.appendChild(el);
  return el;
}

/* ---- Manhattan ---- */
const manhattan = document.getElementById("manhattan");
function drawBand(tops, bottoms, colours, name) {
  for (let i = 0; i < tops.length; i++) {
    const a = i * binWidth, b = (i + 1) * binWidth;
    let chrStart = 0;
    chromosomeEnds.forEach(function (chrEnd, c) {
      const lo = Math.max(a, chrStart), hi = Math.min(b, chrEnd);
      if (hi > lo) {
        const el = svgEl("rect", { x: posX(lo), y: fstY(tops[i]), width: posX(hi) - posX(lo), height: fstY(bottoms[i]) - fstY(tops[i]), fill: colours[c % 2] }, manhattan);
        
        
      }
      chrStart = chrEnd;
    });
  }
}
drawBand(haloTop, haloBottom, ["rgba(102,102,102,.2)", "rgba(34,34,34,.24)"], "fst-snp-halo");
drawBand(coreTop, coreBottom, ["#666666", "#232323"], "fst-snp-core");

peakPositions.forEach(function (p, i) {
  const c = chromosomeEnds.findIndex(function (e) { return p <= e; });
  const el = svgEl("rect", { x: posX(p) - 7, y: fstY(peakValues[i]), width: 14, height: fstY(0.1) - fstY(peakValues[i]), fill: c % 2 ? "#232323" : "#666666" }, manhattan);
  
  
});
outlierPositions.forEach(function (p, i) {
  const el = svgEl("circle", { cx: posX(p), cy: fstY(outlierFst[i]), r: 5, fill: "rgba(0,0,0,.25)", stroke: "rgba(0,0,0,.35)", "stroke-width": 1.5 }, manhattan);
  
  
});
highlightPositions.forEach(function (p, i) {
  const el = svgEl("circle", { cx: posX(p), cy: fstY(highlightFst[i]), r: 11.5, fill: homRefColors[highlightChromosome[i]], opacity: 0.8 }, manhattan);
  
  
});

const yAxisLine = svgEl("line", { x1: 238, y1: 118, x2: 238, y2: 567, stroke: "#000", "stroke-width": 5 }, manhattan);


const xAxisLine = svgEl("line", { x1: 236, y1: axisY, x2: plotRight, y2: axisY, stroke: "#000", "stroke-width": 5 }, manhattan);


yTickValues.forEach(function (v, i) {
  const t = svgEl("line", { x1: 229, y1: fstY(v), x2: 236, y2: fstY(v), stroke: "#333", "stroke-width": 4 }, manhattan);
  
  
  const l = svgEl("text", { x: 218, y: fstY(v) + 13, "text-anchor": "end", "font-size": 35, fill: "#4d4d4d" }, manhattan);
  
  
  l.textContent = yTickLabels[i];
});
xTickPositions.forEach(function (p, i) {
  const t = svgEl("line", { x1: posX(p), y1: 567, x2: posX(p), y2: 576, stroke: "#333", "stroke-width": 3 }, manhattan);
  
  
  const l = svgEl("text", { x: posX(p), y: 613, "text-anchor": "middle", "font-size": 35, fill: "#4d4d4d" }, manhattan);
  
  
  l.textContent = xTickLabels[i];
});

/* ---- Heatmaps ---- */
const heatmaps = document.getElementById("heatmaps");
const rowCount = populationOrder.length * rowsPerGroup;
function rowY(r) { return heatTop + r * rowHeight; }
chromosomeTitles.forEach(function (title, c) {
  const g = svgEl("g", {}, heatmaps);
  
  
  const heatX = heatLefts[c], heatW = panelRights[c] - heatX;
  function pctX(pct) { return heatX + pct / 100 * heatW; }
  const genotypeColour = [homRefColors[c], "#9b86a3", "#7a3f2e", "#ffffff"];

  const label = svgEl("text", { x: panelLefts[c], y: 807, "font-size": 53, class: "pre" }, g);
  
  
  label.textContent = title;

  const base = svgEl("rect", { x: heatX, y: heatTop, width: heatW, height: rowCount * rowHeight, fill: homRefColors[c], "shape-rendering": "crispEdges" }, g);
  
  

  chromosomeRuns[c].forEach(function (run) {
    const w = Math.max(pctX(run[3]) - pctX(run[2]), 0);
    const cell = svgEl("rect", { x: pctX(run[2]), y: rowY(run[0]), width: w, height: (run[1] - run[0] + 1) * rowHeight, fill: genotypeColour[run[4]], "shape-rendering": "crispEdges" }, g);
    
    
  });
  chromosomeThin[c].forEach(function (entry) {
    entry[1].forEach(function (pct) {
      const mark = svgEl("rect", { x: pctX(pct), y: rowY(entry[0]), width: 2.5, height: rowHeight, fill: genotypeColour[1], "shape-rendering": "crispEdges" }, g);
      
      
    });
  });
  for (let k = 0; k <= populationOrder.length; k++) {
    const y = rowY(k * rowsPerGroup);
    const line = svgEl("line", { x1: panelLefts[c], y1: y, x2: panelRights[c], y2: y, stroke: "#000", "stroke-width": 4 }, g);
    
    
  }
  const wave = [markerNear[c], markerMid[c], markerFar[c], markerFar[c], markerMid[c], markerNear[c]];
  populationOrder.forEach(function (pop, p) {
    for (let s = 0; s < rowsPerGroup; s++) {
      const cx = heatX - wave[s], cy = rowY(p * rowsPerGroup + s) + rowHeight / 2;
      let m;
      if (populationSelected[p]) {
        const d = 14.2;
        m = svgEl("polygon", { points: (cx - d) + "," + cy + " " + cx + "," + (cy - d) + " " + (cx + d) + "," + cy + " " + cx + "," + (cy + d), fill: populationColors[p] }, g);
      } else {
        m = svgEl("circle", { cx: cx, cy: cy, r: 12.8, fill: populationColors[p] }, g);
      }
      
      
    }
  });
});
</script>
</body>
</html>
